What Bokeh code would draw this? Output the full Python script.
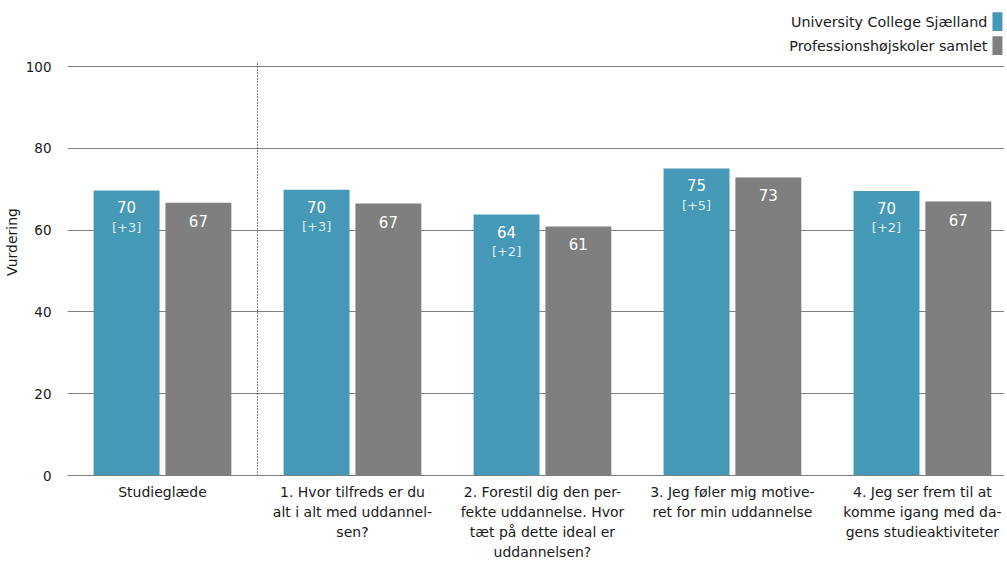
from bokeh.plotting import figure
from bokeh.embed import file_html
from bokeh.resources import INLINE
from bokeh.models import ColumnDataSource, FixedTicker, Range1d
from bokeh.core.properties import value

categories = [
    "Studieglæde",
    "1. Hvor tilfreds er du\nalt i alt med uddannel-\nsen?",
    "2. Forestil dig den per-\nfekte uddannelse. Hvor\ntæt på dette ideal er\nuddannelsen?",
    "3. Jeg føler mig motive-\nret for min uddannelse",
    "4. Jeg ser frem til at\nkomme igang med da-\ngens studieaktiviteter",
]
ucs_values = [69.7, 69.9, 63.8, 75.1, 69.6]
all_values = [66.7, 66.5, 60.9, 72.9, 67.0]
ucs_labels = ["70", "70", "64", "75", "70"]
all_labels = ["67", "67", "61", "73", "67"]
diff_labels = ["[+3]", "[+3]", "[+2]", "[+5]", "[+2]"]
series_names = ["University College Sjælland", "Professionshøjskoler samlet"]
y_ticks = [0, 20, 40, 60, 80, 100]

TEAL = "#4699B6"
GREY = "#7F7F7F"
FONT = "DejaVu Sans"
TXT = "#1a1a1a"

n = len(categories)
centers = [i + 0.5 for i in range(n)]
off = 0.189
bw = 0.347

p = figure(
    output_backend="svg", toolbar_location=None,
    frame_width=937, frame_height=467,
    min_border_left=62, min_border_right=0, min_border_top=8, min_border_bottom=86,
    x_range=Range1d(0, 4.932), y_range=Range1d(0, 114.2),
    outline_line_color=None, background_fill_color="white",
)

ucs_src = ColumnDataSource(dict(x=[c - off for c in centers], top=ucs_values,
                                lab=ucs_labels, diff=diff_labels))
all_src = ColumnDataSource(dict(x=[c + off for c in centers], top=all_values, lab=all_labels))

p.vbar(x="x", top="top", width=bw, bottom=0, source=ucs_src, fill_color=TEAL, line_color=None)
p.vbar(x="x", top="top", width=bw, bottom=0, source=all_src, fill_color=GREY, line_color=None)

# value labels inside bars
p.text(x="x", y="top", text="lab", source=ucs_src, y_offset=17, text_align="center",
       text_baseline="middle", text_color="white", text_font=value(FONT), text_font_size="15px")
p.text(x="x", y="top", text="diff", source=ucs_src, y_offset=37, text_align="center",
       text_baseline="middle", text_color="#DCEEF4", text_font=value(FONT), text_font_size="13px")
p.text(x="x", y="top", text="lab", source=all_src, y_offset=18, text_align="center",
       text_baseline="middle", text_color="white", text_font=value(FONT), text_font_size="15px")

# dotted separator after first category
p.segment(x0=[1.0], y0=[0], x1=[1.0], y1=[101], line_color="black", line_width=1, line_dash="1 2")

# legend (custom, squares right of labels)
leg_y = [111.0, 105.1]
leg_src = ColumnDataSource(dict(x=[4.842, 4.842], y=leg_y, t=series_names))
p.text(x="x", y="y", text="t", source=leg_src, text_align="right", text_baseline="middle",
       text_color=TXT, text_font=value(FONT), text_font_size="14.3px")
p.rect(x=[4.895, 4.895], y=leg_y, width=0.0526, height=4.6, fill_color=[TEAL, GREY], line_color=None)

# axes
p.xaxis.ticker = FixedTicker(ticks=centers)
p.xaxis.major_label_overrides = {c: lab for c, lab in zip(centers, categories)}
p.xaxis.major_tick_line_color = None
p.xaxis.minor_tick_line_color = None
p.xaxis.axis_line_color = "#808080"
p.xaxis.major_label_text_font = FONT
p.xaxis.major_label_text_font_size = "14px"
p.xaxis.major_label_text_color = TXT
p.xaxis.major_label_text_line_height = 1.27
p.xaxis.major_label_standoff = 2
p.xaxis.major_label_text_align = "center"

p.yaxis.ticker = FixedTicker(ticks=y_ticks)
p.yaxis.axis_line_color = None
p.yaxis.major_tick_line_color = None
p.yaxis.minor_tick_line_color = None
p.yaxis.major_label_text_font = FONT
p.yaxis.major_label_text_font_size = "13.5px"
p.yaxis.major_label_text_color = TXT
p.yaxis.major_label_standoff = 10
p.yaxis.axis_label = "Vurdering"
p.yaxis.axis_label_text_font = FONT
p.yaxis.axis_label_text_font_size = "14px"
p.yaxis.axis_label_text_font_style = "normal"
p.yaxis.axis_label_text_color = TXT
p.yaxis.axis_label_standoff = 3

p.xgrid.grid_line_color = None
p.ygrid.grid_line_color = "#808080"
p.ygrid.grid_line_width = 1

open("out.html", "w").write(file_html(p, INLINE))
